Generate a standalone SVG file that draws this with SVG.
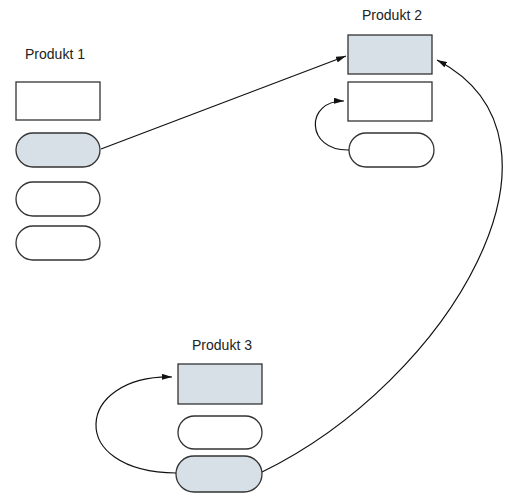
<svg xmlns="http://www.w3.org/2000/svg" width="505" height="495" viewBox="0 0 505 495">
<style>
.lbl{font-family:"Liberation Sans",Arial,sans-serif;font-size:14px;fill:#222;text-anchor:middle}
.box{fill:#fff;stroke:#333;stroke-width:1.3}
.hl{fill:#d7e0e6}
.con{fill:none;stroke:#111;stroke-width:1.2;marker-end:url(#arr)}
</style>
<defs>
<marker id="arr" viewBox="0 0 10 6" refX="10" refY="3" markerWidth="10" markerHeight="6" markerUnits="userSpaceOnUse" orient="auto">
<path d="M0,0 L10,3 L0,6 Z" fill="#111"/>
</marker>
</defs>
<rect width="505" height="495" fill="#fff"/>
<g id="produkt1">
<text class="lbl" x="55" y="59">Produkt 1</text>
<rect class="box" x="16" y="82" width="84" height="38"/>
<rect class="box hl" x="16" y="133" width="84" height="34" rx="17"/>
<rect class="box" x="16" y="182" width="84" height="34" rx="17"/>
<rect class="box" x="16" y="226" width="84" height="34" rx="17"/>
</g>
<g id="produkt2">
<text class="lbl" x="392" y="20">Produkt 2</text>
<rect class="box hl" x="348" y="35" width="84" height="39"/>
<rect class="box" x="348" y="82" width="84" height="39"/>
<rect class="box" x="349" y="133" width="85" height="34" rx="17"/>
</g>
<g id="produkt3">
<text class="lbl" x="222" y="350">Produkt 3</text>
<rect class="box hl" x="178" y="364" width="84" height="40"/>
<rect class="box" x="178" y="416" width="84" height="33" rx="16.5"/>
<rect class="box hl" x="176" y="456" width="86" height="36" rx="18"/>
</g>
<g id="connectors">
<path class="con" d="M101,149 L346,56"/>
<path class="con" d="M349,150 C305,151 305,100 344,101"/>
<path class="con" d="M176,473 C65,472 75,375 172,377"/>
<path class="con" d="M262,472 C450,380 590,140 437,60"/>
</g>
</svg>
